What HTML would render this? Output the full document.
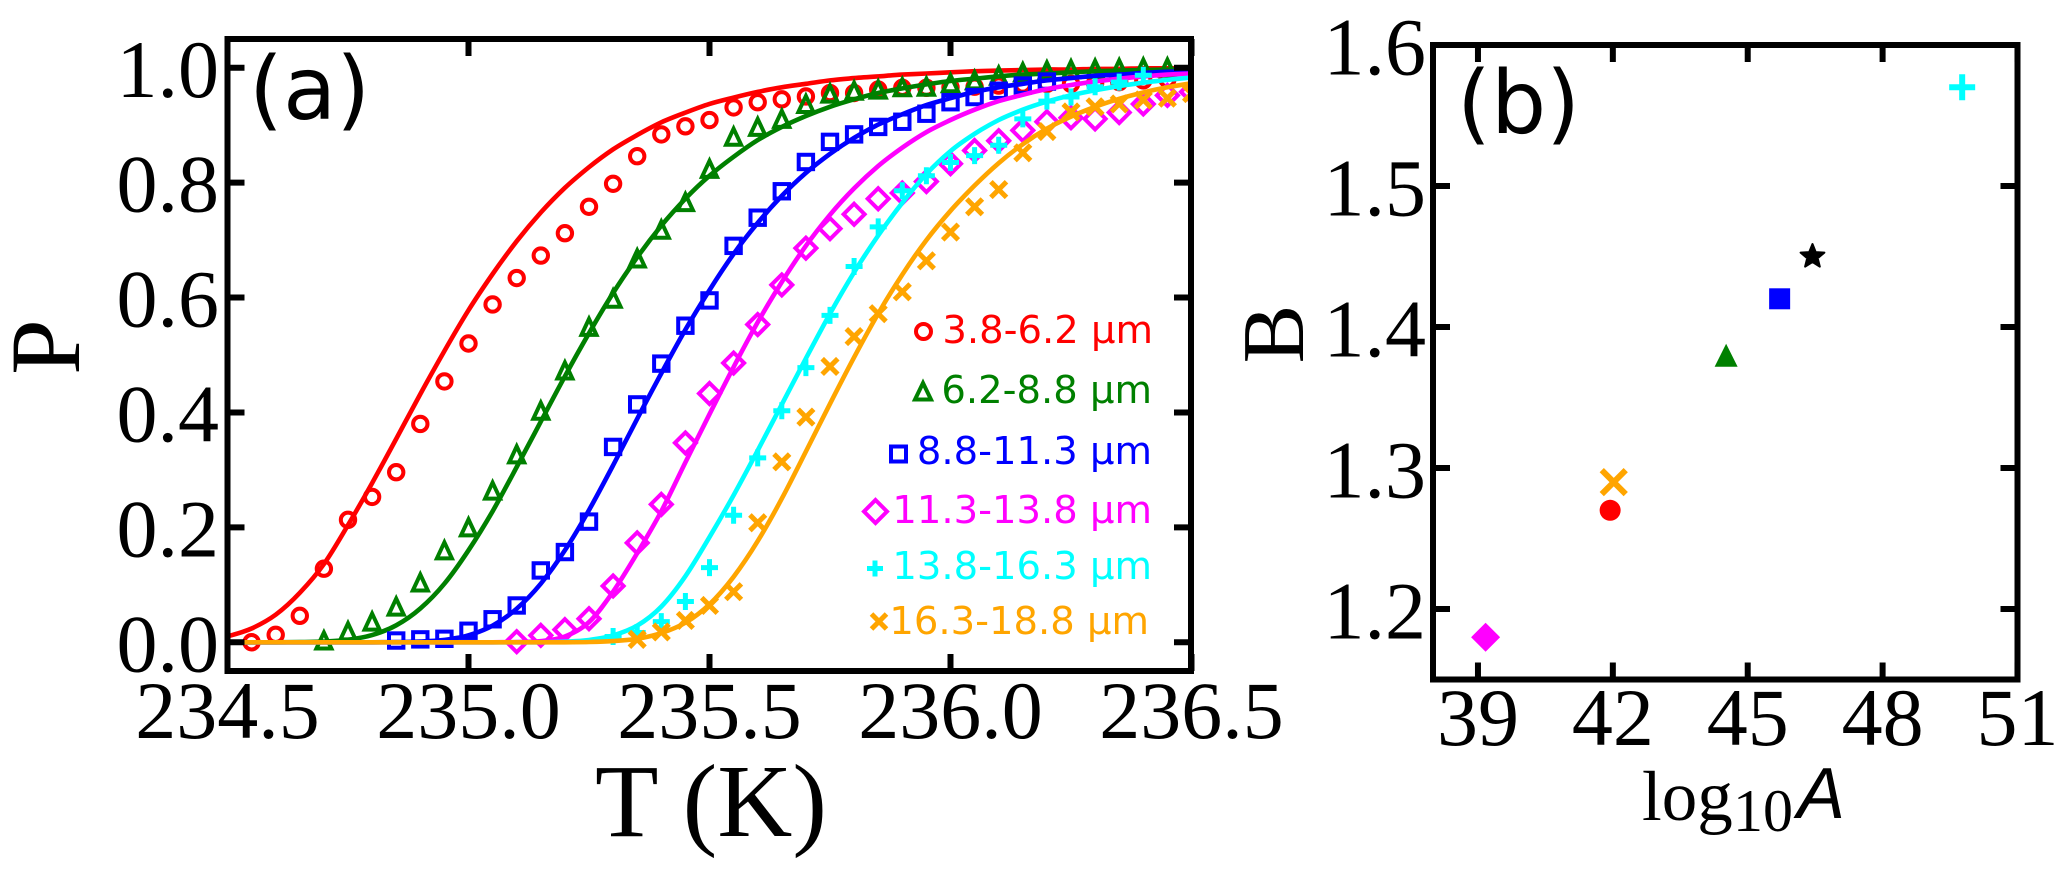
<!DOCTYPE html>
<html lang="en">
<head>
<meta charset="utf-8">
<title>P vs T and B vs log10 A</title>
<style>
html,body{margin:0;padding:0;background:#fff;width:2067px;height:876px;overflow:hidden}
svg{display:block}
.serif{font-family:"Liberation Serif",serif;fill:#000}
.panel{font-family:"DejaVu Sans",sans-serif;font-size:87px;fill:#000}
.legend text{font-family:"DejaVu Sans",sans-serif;font-size:38.5px;text-anchor:end}
</style>
</head>
<body>
<svg id="fig" xmlns="http://www.w3.org/2000/svg" width="2067" height="876" viewBox="0 0 2067 876">
  <rect width="2067" height="876" fill="#fff"/>
  <defs>
    <clipPath id="clipA"><rect x="227.5" y="39" width="963.5" height="632"/></clipPath>
  </defs>
  <g id="panelA">
    <g id="seriesA" clip-path="url(#clipA)"></g>
    <g id="ticksA"></g>
    <rect x="227.5" y="39" width="963.5" height="632" fill="none" stroke="#000" stroke-width="6"/>
    <text class="panel" x="249" y="119">(a)</text>
    <text class="serif" x="711" y="836" font-size="104" text-anchor="middle">T (K)</text>
    <text class="serif" transform="translate(79,347) rotate(-90)" font-size="100" text-anchor="middle">P</text>
    <g class="legend">
      <g fill="#ff0000">
        <circle cx="923.5" cy="331.5" r="7.5" fill="none" stroke="#ff0000" stroke-width="4"/>
        <text x="1153" y="343">3.8-6.2 µm</text>
      </g>
      <g fill="#008000">
        <polygon points="923,383 931,399.5 915,399.5" fill="none" stroke="#008000" stroke-width="4"/>
        <text x="1152" y="403">6.2-8.8 µm</text>
      </g>
      <g fill="#0000ff">
        <rect x="891" y="446.5" width="15" height="15" fill="none" stroke="#0000ff" stroke-width="4"/>
        <text x="1152" y="464">8.8-11.3 µm</text>
      </g>
      <g fill="#ff00ff">
        <polygon points="875.5,500 887,511.5 875.5,523 864,511.5" fill="none" stroke="#ff00ff" stroke-width="4"/>
        <text x="1152" y="523">11.3-13.8 µm</text>
      </g>
      <g fill="#00ffff">
        <path d="M867 568.5H883M875 560.5V576.5" fill="none" stroke="#00ffff" stroke-width="5"/>
        <text x="1152" y="579">13.8-16.3 µm</text>
      </g>
      <g fill="#ffa500">
        <path d="M871.5 614L886.5 629M886.5 614L871.5 629" fill="none" stroke="#ffa500" stroke-width="5"/>
        <text x="1149" y="634">16.3-18.8 µm</text>
      </g>
    </g>
  </g>
  <g id="panelB">
    <g id="ticksB"></g>
    <g id="seriesB"></g>
    <rect x="1433" y="45" width="584.5" height="634.5" fill="none" stroke="#000" stroke-width="6"/>
    <text class="panel" x="1457" y="133">(b)</text>
    <text class="serif" transform="translate(1303,334) rotate(-90)" font-size="88" text-anchor="middle">B</text>
    <g>
      <text class="serif" x="1642" y="820" font-size="71">log</text>
      <text class="serif" x="1733" y="831" font-size="60">10</text>
      <text x="1797" y="818" font-size="72" font-style="italic" font-family="'Liberation Sans',sans-serif">A</text>
    </g>
  </g>
</svg>
<script>
// Panel (a): shared temperature grid (K)
const temperatures = [234.50,234.55,234.60,234.65,234.70,234.75,234.80,234.85,234.90,234.95,235.00,235.05,235.10,235.15,235.20,235.25,235.30,235.35,235.40,235.45,235.50,235.55,235.60,235.65,235.70,235.75,235.80,235.85,235.90,235.95,236.00,236.05,236.10,236.15,236.20,236.25,236.30,236.35,236.40,236.45,236.50];

// Measured P values, aligned with temperatures (null = no marker)
const redPoints = [null,0.000,0.013,0.046,0.128,0.213,0.253,0.296,0.380,0.454,0.520,0.588,0.634,0.673,0.712,0.758,0.798,0.846,0.884,0.898,0.909,0.931,0.940,0.945,0.950,0.956,0.956,0.962,0.965,0.965,0.966,0.967,0.969,0.971,0.972,0.972,0.973,0.975,0.978,0.980,null];
const greenPoints = [null,null,null,null,0.003,0.019,0.036,0.062,0.104,0.160,0.200,0.264,0.327,0.403,0.473,0.549,0.598,0.668,0.718,0.766,0.824,0.880,0.897,0.911,0.937,0.955,0.960,0.962,0.966,0.967,0.973,0.978,0.986,0.992,0.995,0.997,0.998,0.999,1.000,1.000,null];
const bluePoints = [null,null,null,null,null,null,null,0.003,0.005,0.006,0.020,0.040,0.064,0.125,0.157,0.210,0.340,0.414,0.485,0.551,0.595,0.690,0.739,0.785,0.836,0.871,0.884,0.897,0.906,0.920,0.940,0.949,0.960,0.969,0.976,null,null,null,null,null,null];
const magentaPoints = [null,null,null,null,null,null,null,null,null,null,null,null,0.001,0.012,0.022,0.041,0.098,0.173,0.240,0.347,0.433,0.486,0.553,0.622,0.686,0.720,0.745,0.772,0.782,0.802,0.833,0.856,0.873,0.891,0.906,0.913,0.911,0.922,0.937,0.952,0.958];
const cyanPoints = [null,null,null,null,null,null,null,null,null,null,null,null,null,null,null,null,0.010,0.017,0.036,0.071,0.130,0.221,0.321,0.403,0.478,0.569,0.654,0.723,0.786,0.812,0.835,0.847,0.865,0.911,0.942,0.949,0.967,0.975,0.987,null,null];
const orangePoints = [null,null,null,null,null,null,null,null,null,null,null,null,null,null,null,null,null,0.005,0.018,0.038,0.064,0.088,0.208,0.314,0.392,0.480,0.532,0.572,0.610,0.664,0.714,0.758,0.788,0.852,0.889,0.923,0.932,0.937,0.944,0.947,0.955];

// Fitted curves, aligned with temperatures
const redCurve = [0.010,0.024,0.048,0.086,0.136,0.204,0.277,0.354,0.432,0.507,0.578,0.641,0.698,0.748,0.791,0.827,0.858,0.883,0.905,0.922,0.937,0.948,0.958,0.966,0.972,0.978,0.982,0.985,0.988,0.990,0.992,0.994,0.995,0.996,0.997,0.997,0.998,0.998,0.999,0.999,0.999];
const greenCurve = [0,0,0,0.0002,0.0011,0.0043,0.0125,0.0295,0.0587,0.102,0.160,0.228,0.305,0.384,0.463,0.538,0.608,0.670,0.725,0.772,0.812,0.845,0.874,0.897,0.916,0.932,0.945,0.956,0.964,0.971,0.977,0.981,0.985,0.988,0.990,0.992,0.994,0.995,0.996,0.997,0.997];
const blueCurve = [0,0,0,0,0,0,0,0.0002,0.0011,0.0041,0.0121,0.029,0.0584,0.102,0.160,0.230,0.308,0.389,0.468,0.544,0.613,0.676,0.730,0.777,0.817,0.850,0.878,0.901,0.919,0.935,0.947,0.958,0.966,0.972,0.978,0.982,0.986,0.988,0.991,0.993,0.994];
const magentaCurve = [0,0,0,0,0,0,0,0,0,0,0,0,0.0005,0.002,0.010,0.035,0.088,0.155,0.228,0.313,0.397,0.479,0.557,0.627,0.690,0.744,0.790,0.829,0.861,0.888,0.909,0.927,0.942,0.953,0.963,0.970,0.976,0.981,0.985,0.988,0.990];
const cyanCurve = [0,0,0,0,0,0,0,0,0,0,0,0,0,0,0.001,0.004,0.012,0.029,0.062,0.115,0.183,0.256,0.334,0.414,0.494,0.572,0.644,0.708,0.765,0.815,0.855,0.885,0.909,0.927,0.941,0.952,0.961,0.968,0.974,0.979,0.983];
const orangeCurve = [0,0,0,0,0,0,0,0,0,0,0,0,0,0,0,0.0005,0.002,0.006,0.016,0.034,0.066,0.114,0.176,0.250,0.332,0.415,0.496,0.572,0.640,0.700,0.751,0.795,0.834,0.867,0.894,0.915,0.932,0.946,0.957,0.966,0.973];

// Tick labels
const tempTicks = ['234.5','235.0','235.5','236.0','236.5'];
const pTicks = ['0.0','0.2','0.4','0.6','0.8','1.0'];
const logATicks = ['39','42','45','48','51'];
const bTicks = ['1.2','1.3','1.4','1.5','1.6'];

// Panel (b): fitted parameters, one per size bin plus the overall star
const scatterLogA = [41.94,44.52,45.71,39.17,49.77,42.02,46.44];
const scatterB = [1.27,1.38,1.42,1.18,1.57,1.29,1.45];
const scatterShapes = ['circle','triangle','square','diamond','plus','cross','star'];
const scatterColors = ['#ff0000','#008000','#0000ff','#ff00ff','#00ffff','#ffa500','#000000'];

const NS = 'http://www.w3.org/2000/svg';
const xA = t => 227.5 + (t - 234.5) * 482;
const yA = p => 355 - (p - 0.5) * 574.5;
const xB = v => 1433 + (v - 38) * 44.96;
const yB = v => 45 + (1.6 - v) * 1410;

function make(tag, parent, props) {
  const el = document.createElementNS(NS, tag);
  for (const k in props) el.setAttribute(k, props[k]);
  parent.appendChild(el);
  return el;
}

function drawMarker(parent, shape, cx, cy, color, filled) {
  const sw = 4;
  let el;
  if (shape === 'circle') {
    el = make('circle', parent, {cx: cx, cy: cy, r: filled ? 10.5 : 7.2});
  } else if (shape === 'triangle') {
    const h = filled ? 11.5 : 8, w = filled ? 11.5 : 7.5;
    el = make('polygon', parent, {points: `${cx},${cy - h} ${cx + w},${cy + h} ${cx - w},${cy + h}`});
  } else if (shape === 'square') {
    const s = filled ? 10.5 : 7.2;
    el = make('rect', parent, {x: cx - s, y: cy - s, width: 2 * s, height: 2 * s});
  } else if (shape === 'diamond') {
    const s = filled ? 14.5 : 10.5;
    el = make('polygon', parent, {points: `${cx},${cy - s} ${cx + s},${cy} ${cx},${cy + s} ${cx - s},${cy}`});
  } else if (shape === 'plus') {
    const s = filled ? 13 : 8.5;
    el = make('path', parent, {d: `M${cx - s} ${cy}H${cx + s}M${cx} ${cy - s}V${cy + s}`});
  } else if (shape === 'cross') {
    const s = filled ? 12 : 7.8;
    el = make('path', parent, {d: `M${cx - s} ${cy - s}L${cx + s} ${cy + s}M${cx + s} ${cy - s}L${cx - s} ${cy + s}`});
  } else {
    const pts = [];
    for (let i = 0; i < 10; i++) {
      const r = i % 2 ? 5.5 : 12.5;
      const a = -Math.PI / 2 + i * Math.PI / 5;
      pts.push((cx + r * Math.cos(a)).toFixed(1) + ',' + (cy + r * Math.sin(a)).toFixed(1));
    }
    el = make('polygon', parent, {points: pts.join(' ')});
    el.setAttribute('stroke', color);
    el.setAttribute('stroke-width', 2);
    el.setAttribute('stroke-linejoin', 'round');
    el.setAttribute('fill', color);
    return el;
  }
  const line = shape === 'plus' || shape === 'cross';
  if (filled && !line) {
    el.setAttribute('fill', color);
  } else {
    el.setAttribute('fill', 'none');
    el.setAttribute('stroke', color);
    el.setAttribute('stroke-width', line ? (filled ? 6 : 5) : sw);
  }
  return el;
}

function curvePath(values) {
  const pts = values.map((v, i) => [xA(temperatures[i]), yA(v)]);
  let d = 'M' + pts[0][0].toFixed(1) + ' ' + pts[0][1].toFixed(1);
  for (let i = 0; i < pts.length - 1; i++) {
    const p0 = pts[Math.max(0, i - 1)], p1 = pts[i], p2 = pts[i + 1], p3 = pts[Math.min(pts.length - 1, i + 2)];
    const c1 = [p1[0] + (p2[0] - p0[0]) / 6, p1[1] + (p2[1] - p0[1]) / 6];
    const c2 = [p2[0] - (p3[0] - p1[0]) / 6, p2[1] - (p3[1] - p1[1]) / 6];
    d += `C${c1[0].toFixed(1)} ${c1[1].toFixed(1)} ${c2[0].toFixed(1)} ${c2[1].toFixed(1)} ${p2[0].toFixed(1)} ${p2[1].toFixed(1)}`;
  }
  return d;
}

const seriesList = [
  {name: 'red', color: '#ff0000', shape: 'circle', points: redPoints, curve: redCurve},
  {name: 'green', color: '#008000', shape: 'triangle', points: greenPoints, curve: greenCurve},
  {name: 'blue', color: '#0000ff', shape: 'square', points: bluePoints, curve: blueCurve},
  {name: 'magenta', color: '#ff00ff', shape: 'diamond', points: magentaPoints, curve: magentaCurve},
  {name: 'cyan', color: '#00ffff', shape: 'plus', points: cyanPoints, curve: cyanCurve},
  {name: 'orange', color: '#ffa500', shape: 'cross', points: orangePoints, curve: orangeCurve}
];

const seriesA = document.getElementById('seriesA');
seriesList.forEach(s => {
  s.points.forEach((p, i) => {
    if (p === null) return;
    const m = drawMarker(seriesA, s.shape, xA(temperatures[i]), yA(p), s.color, false);
    
    
  });
  const line = make('path', seriesA, {d: curvePath(s.curve), fill: 'none', stroke: s.color, 'stroke-width': 4.6});
  
  
});

function tick(parent, x1, y1, x2, y2) {
  const t = make('line', parent, {x1: x1, y1: y1, x2: x2, y2: y2, stroke: '#000', 'stroke-width': 6});
  
  
}

function tickLabel(parent, str, x, y, anchor) {
  const t = make('text', parent, {x: x, y: y, 'text-anchor': anchor, 'font-size': 82, class: 'serif'});
  t.textContent = str;
  
  
}

const ticksA = document.getElementById('ticksA');
tempTicks.forEach(lab => {
  const x = xA(parseFloat(lab));
  tick(ticksA, x, 671, x, 654);
  tick(ticksA, x, 39, x, 56);
  tickLabel(ticksA, lab, x, 738, 'middle');
});
pTicks.forEach(lab => {
  const y = yA(parseFloat(lab));
  tick(ticksA, 227.5, y, 244.5, y);
  tick(ticksA, 1191, y, 1174, y);
  tickLabel(ticksA, lab, 219, y + 29, 'end');
});

const ticksB = document.getElementById('ticksB');
logATicks.forEach(lab => {
  const x = xB(parseFloat(lab));
  tick(ticksB, x, 679.5, x, 662.5);
  tick(ticksB, x, 45, x, 62);
  tickLabel(ticksB, lab, x, 745, 'middle');
});
bTicks.forEach(lab => {
  const y = yB(parseFloat(lab));
  tick(ticksB, 1433, y, 1450, y);
  tick(ticksB, 2017.5, y, 2000.5, y);
  tickLabel(ticksB, lab, 1426, y + 29.5, 'end');
});

const seriesB = document.getElementById('seriesB');
scatterLogA.forEach((v, i) => {
  const m = drawMarker(seriesB, scatterShapes[i], xB(v), yB(scatterB[i]), scatterColors[i], true);
  
  
});
</script>
</body>
</html>
